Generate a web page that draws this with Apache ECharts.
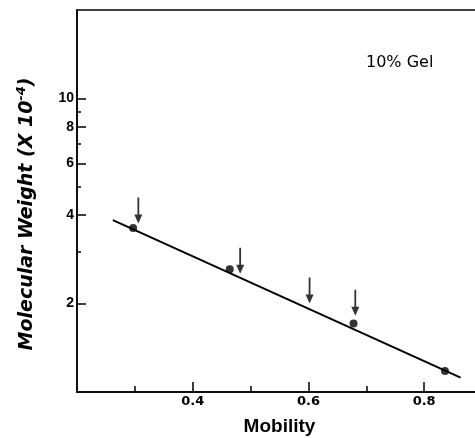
<!DOCTYPE html>
<html>
<head>
<meta charset="utf-8">
<script src="https://cdn.jsdelivr.net/npm/echarts@6/dist/echarts.min.js"></script>
<style>
  html, body { margin: 0; padding: 0; background: #fff; }
  #chart { width: 475px; height: 438px; }
</style>
</head>
<body>
<div id="chart"></div>
<script>
// measured points (mobility, molecular weight x 10^-4)
var pointX = [0.297, 0.464, 0.678, 0.836]
var pointY = [3.62, 2.62, 1.71, 1.18]
// fitted line end points
var lineX = [0.262, 0.863]
var lineY = [3.85, 1.12]
// arrows (tip positions)
var arrowX = [0.306, 0.482, 0.602, 0.681]
var arrowY = [3.75, 2.53, 2.0, 1.82]
// ticks
var xMajor = [0.4, 0.6, 0.8]
var xMinor = [0.3, 0.5, 0.7]
var yMajor = [2, 4, 6, 8, 10]
var yMinor = [3, 5, 7, 9]

var FONT = 'DejaVu Sans'
var chart = echarts.init(document.getElementById('chart'))

function zip(xs, ys) {
  return xs.map(function (x, i) { return [x, ys[i]] })
}

var arrowPath = 'path://M3.1,0 L4.9,0 L4.9,17 L8,17 L4,26 L0,17 L3.1,17 Z'

chart.setOption({
  animation: false,
  grid: {
    left: 77, top: 10, right: -7, bottom: 46,
    outerBoundsMode: 'none', containLabel: false,
    show: true, borderColor: '#000', borderWidth: 1.5
  },
  xAxis: [
    {
      type: 'value', min: 0.2, max: 0.9,
      axisLine: { lineStyle: { color: '#000', width: 1.5 } },
      axisTick: { inside: true, length: 10, customValues: xMajor, lineStyle: { color: '#000', width: 1.5 } },
      axisLabel: { customValues: xMajor, color: '#000', fontFamily: FONT, fontSize: 13, fontWeight: 'bold', margin: 3,
        formatter: function (v) { return v.toFixed(1) } },
      splitLine: { show: false },
      name: 'Mobility', nameLocation: 'middle', nameGap: 25,
      nameTextStyle: { color: '#000', fontFamily: 'Liberation Sans', fontSize: 19, fontWeight: 'bold' }
    },
    {
      type: 'value', min: 0.2, max: 0.9, position: 'bottom',
      axisLine: { show: false },
      axisTick: { show: true, inside: true, length: 6, customValues: xMinor, lineStyle: { color: '#000', width: 1.5 } },
      axisLabel: { show: false },
      splitLine: { show: false }
    }
  ],
  yAxis: [
    {
      type: 'log', min: 1, max: 20,
      axisLine: { show: true, lineStyle: { color: '#000', width: 1.5 } },
      axisTick: { inside: true, length: 9, customValues: yMajor, lineStyle: { color: '#000', width: 1.5 } },
      axisLabel: { customValues: yMajor, color: '#000', fontFamily: 'Liberation Sans', fontSize: 14, fontWeight: 'bold', margin: 3 },
      splitLine: { show: false }
    },
    {
      type: 'log', min: 1, max: 20, position: 'left',
      axisLine: { show: false },
      axisTick: { show: true, inside: true, length: 4, customValues: yMinor, lineStyle: { color: '#000', width: 1.5 } },
      axisLabel: { show: false },
      splitLine: { show: false }
    }
  ],
  graphic: [
    {
      type: 'text', x: 366, y: 55,
      style: { text: '10% Gel', fill: '#000', font: '16px "DejaVu Sans"' }
    },
    {
      type: 'text', x: 27, y: 214, rotation: Math.PI / 2,
      style: {
        text: '{a|Molecular Weight (X 10}{s|-4}{a|)}',
        align: 'center', verticalAlign: 'middle',
        rich: {
          a: { fill: '#000', fontFamily: FONT, fontSize: 19, fontWeight: 'bold', fontStyle: 'italic' },
          s: { fill: '#000', fontFamily: FONT, fontSize: 13, fontWeight: 'bold', fontStyle: 'italic', padding: [0, 0, 10, 0] }
        }
      }
    }
  ],
  series: [
    {
      type: 'line', data: zip(lineX, lineY), symbol: 'none',
      lineStyle: { color: '#000', width: 2 }, z: 2
    },
    {
      type: 'scatter', data: zip(pointX, pointY), symbol: 'circle', symbolSize: 8,
      itemStyle: { color: '#000' }, z: 3
    },
    {
      type: 'scatter', data: zip(arrowX, arrowY), symbol: arrowPath,
      xAxisIndex: 1, yAxisIndex: 1,
      symbolSize: [8, 26], symbolOffset: [0, -13],
      itemStyle: { color: '#000' }, z: 3
    }
  ]
})
</script>
</body>
</html>
